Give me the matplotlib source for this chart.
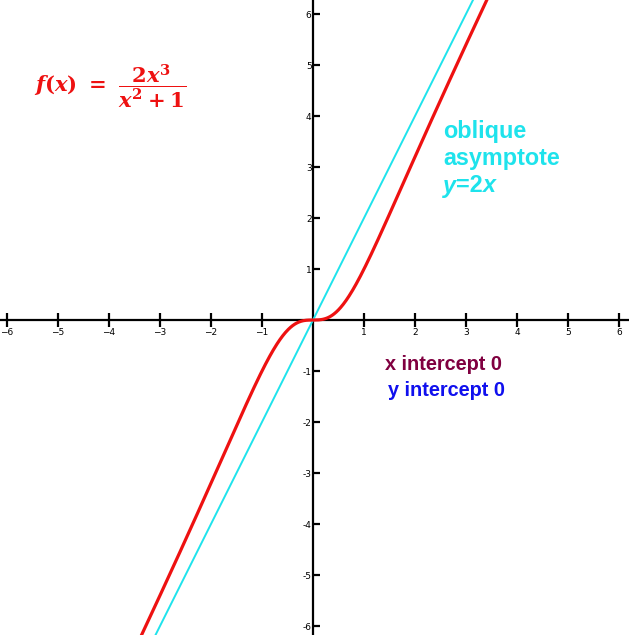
import numpy as np
import matplotlib as mpl
mpl.use('Agg')
import matplotlib.pyplot as plt

ticks = [-6, -5, -4, -3, -2, -1, 1, 2, 3, 4, 5, 6]
xlabels = ['\u22126', '\u22125', '\u22124', '\u22123', '\u22122', '\u22121', '1', '2', '3', '4', '5', '6']
ylabels = ['-6', '-5', '-4', '-3', '-2', '-1', '1', '2', '3', '4', '5', '6']
asym_slope = 2

x = np.linspace(-7, 7, 1000)
f = 2 * x**3 / (x**2 + 1)

plt.rcParams['mathtext.fontset'] = 'custom'
plt.rcParams['mathtext.it'] = 'DejaVu Serif:italic:bold'
plt.rcParams['mathtext.rm'] = 'DejaVu Serif:bold'
plt.rcParams['mathtext.bf'] = 'DejaVu Serif:bold'

fig = plt.figure(figsize=(6.29, 6.35), dpi=100)
ax = fig.add_axes([0, 0, 1, 1])
ax.set_xlim(-6.137, 6.196)
ax.set_ylim(-6.176, 6.275)

ax.plot(x, asym_slope * x, color='#1ee3ec', lw=1.4, zorder=2)
ax.plot(x, f, color='#ee1111', lw=2.3, zorder=3)

for s in ['top', 'right']:
    ax.spines[s].set_visible(False)
ax.spines['left'].set_position('zero')
ax.spines['bottom'].set_position('zero')
ax.spines['left'].set_linewidth(1.6)
ax.spines['bottom'].set_linewidth(1.6)
ax.spines['left'].set_zorder(1)
ax.spines['bottom'].set_zorder(1)

ax.set_xticks(ticks)
ax.set_xticklabels(xlabels)
ax.set_yticks(ticks)
ax.set_yticklabels(ylabels)
ax.tick_params(axis='x', direction='inout', length=10, width=1.6, labelsize=6.5, pad=1)
ax.tick_params(axis='y', direction='in', length=5, width=1.6, labelsize=6.5, pad=1)


def px(tx, ty):
    return (tx / 629, 1 - ty / 635)


fig.text(*px(34, 86), r'$f(x)\ =\ \dfrac{2x^3}{x^2+1}$', color='#ee1111',
         fontsize=15.2, va='center', ha='left')

kw = dict(fontweight='bold', family='Liberation Sans', va='center', ha='left')
cyan = '#1ee3ec'
fig.text(*px(443, 132), 'oblique', color=cyan, fontsize=16.8, **kw)
fig.text(*px(443, 159), 'asymptote', color=cyan, fontsize=16.8, **kw)
fig.text(*px(443, 186), 'y', color=cyan, style='italic', fontsize=16.8, **kw)
fig.text(*px(456, 186), '=2', color=cyan, fontsize=16.8, **kw)
fig.text(*px(482, 186), 'x', color=cyan, style='italic', fontsize=16.8, **kw)
fig.text(*px(385, 365), 'x intercept 0', color='#800040', fontsize=14.3, **kw)
fig.text(*px(388, 390), 'y intercept 0', color='#1010ee', fontsize=14.3, **kw)

fig.savefig('out.png', dpi=100)
